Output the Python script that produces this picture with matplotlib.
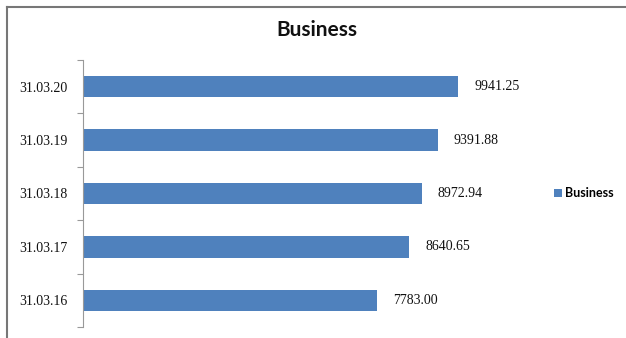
import matplotlib
matplotlib.use('Agg')
import matplotlib.pyplot as plt
from matplotlib.lines import Line2D
import numpy as np

categories = ['31.03.16', '31.03.17', '31.03.18', '31.03.19', '31.03.20']
business = [7783.00, 8640.65, 8972.94, 9391.88, 9941.25]
value_labels = ['7783.00', '8640.65', '8972.94', '9391.88', '9941.25']

BAR_COLOR = '#4F81BD'
W, H = 626, 338

fig = plt.figure(figsize=(W / 100, H / 100), dpi=100)
fig.patch.set_facecolor('white')

ax = fig.add_axes([83 / W, 11 / H, 453 / W, 267 / H])
pos = np.arange(len(categories))
bars = ax.barh(pos, business, height=0.4, color=BAR_COLOR, label='Business')

ax.set_xlim(0, 12000)
ax.set_ylim(-0.5, len(categories) - 0.5)

# category labels sit between boundary ticks, like a spreadsheet chart
ax.set_yticks(pos)
ax.set_yticklabels(categories, family='Liberation Serif', fontsize=10,
                   color='#111111')
ax.set_yticks(np.arange(-0.5, len(categories), 1.0), minor=True)
ax.tick_params(axis='y', which='major', length=0, pad=11)
ax.tick_params(axis='y', which='minor', length=4, width=0.8, color='#999999',
               direction='out')
ax.xaxis.set_visible(False)
for side in ['top', 'right', 'bottom']:
    ax.spines[side].set_visible(False)
ax.spines['left'].set_color('#999999')
ax.spines['left'].set_linewidth(0.8)

for b, txt in zip(bars, value_labels):
    ax.annotate(txt, (b.get_width(), b.get_y() + b.get_height() / 2),
                xytext=(16, 0), textcoords='offset pixels',
                ha='left', va='center', family='Liberation Serif',
                fontsize=10, color='#111111')

fig.text(317 / W, (H - 30) / H, 'Business', ha='center', va='center',
         family='Lato', fontweight='bold', fontsize=15, color='#111111')

fig.legend(handles=[bars], labels=['Business'], loc='center left',
           bbox_to_anchor=(554 / W, (H - 193) / H), frameon=False,
           handlelength=0.6, handleheight=0.6, handletextpad=0.3,
           borderpad=0, borderaxespad=0,
           prop={'family': 'Lato', 'weight': 'bold', 'size': 9})

# frame edges around the chart area
fig.add_artist(Line2D([7 / W, 7 / W], [0, (H - 7) / H], color='#777777', lw=1.5))
fig.add_artist(Line2D([7 / W, 1], [(H - 7) / H, (H - 7) / H], color='#777777', lw=1.5))

fig.savefig('out.png', dpi=100)
